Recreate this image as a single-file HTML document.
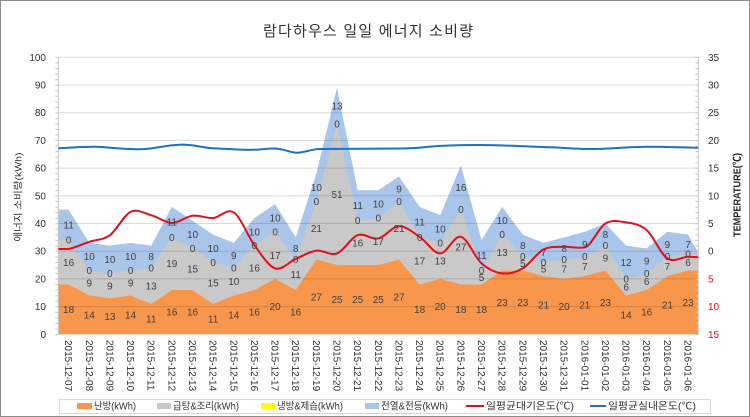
<!DOCTYPE html>
<html><head><meta charset="utf-8"><style>html,body{margin:0;padding:0;background:#fff}svg{display:block}</style></head>
<body>
<svg width="750" height="417" viewBox="0 0 750 417" xmlns="http://www.w3.org/2000/svg" font-family="'Liberation Sans','Noto Sans CJK KR',sans-serif">
<rect x="0.5" y="0.5" width="749" height="416" fill="#fff" stroke="#8c8c8c"/>
<text x="368" y="36" text-anchor="middle" font-size="15" fill="#333" textLength="210" lengthAdjust="spacing">람다하우스 일일 에너지 소비량</text>

<!-- areas -->
<g transform="translate(58.3,334.3) scale(20.645,-2.77)">
<polygon fill="#a9c5ea" points="0,45 0.5,45 1.5,33 2.5,32 3.5,33 4.5,32 5.5,46 6.5,41 7.5,36 8.5,33 9.5,42 10.5,47 11.5,35 12.5,58 13.5,89 14.5,52 15.5,52 16.5,57 17.5,46 18.5,43 19.5,61 20.5,34 21.5,46 22.5,36 23.5,33 24.5,35 25.5,37 26.5,40 27.5,32 28.5,31 29.5,37 30.5,36 31,29.5 31,0 0,0"/>
<polygon fill="#c9c9c9" points="0,34 0.5,34 1.5,23 2.5,22 3.5,23 4.5,24 5.5,35 6.5,31 7.5,26 8.5,24 9.5,32 10.5,37 11.5,27 12.5,48 13.5,76 14.5,41 15.5,42 16.5,48 17.5,35 18.5,33 19.5,45 20.5,23 21.5,36 22.5,28 23.5,26 24.5,27 25.5,28 26.5,32 27.5,20 28.5,22 29.5,28 30.5,29 31,29 31,0 0,0"/>
<polygon fill="#f8974c" points="0,18 0.5,18 1.5,14 2.5,13 3.5,14 4.5,11 5.5,16 6.5,16 7.5,11 8.5,14 9.5,16 10.5,20 11.5,16 12.5,27 13.5,25 14.5,25 15.5,25 16.5,27 17.5,18 18.5,20 19.5,18 20.5,18 21.5,23 22.5,23 23.5,21 24.5,20 25.5,21 26.5,23 27.5,14 28.5,16 29.5,21 30.5,23 31,23 31,0 0,0"/>
</g>

<!-- gridlines -->
<g stroke="rgba(0,0,0,0.14)" stroke-width="1">
<line x1="58.3" x2="698.3" y1="306.6" y2="306.6"/>
<line x1="58.3" x2="698.3" y1="278.9" y2="278.9"/>
<line x1="58.3" x2="698.3" y1="251.2" y2="251.2"/>
<line x1="58.3" x2="698.3" y1="223.5" y2="223.5"/>
<line x1="58.3" x2="698.3" y1="195.8" y2="195.8"/>
<line x1="58.3" x2="698.3" y1="168.1" y2="168.1"/>
<line x1="58.3" x2="698.3" y1="140.4" y2="140.4"/>
<line x1="58.3" x2="698.3" y1="112.7" y2="112.7"/>
<line x1="58.3" x2="698.3" y1="85" y2="85"/>
<line x1="58.3" x2="698.3" y1="57.3" y2="57.3"/>
</g>
<line x1="58.3" x2="58.3" y1="57.3" y2="334.3" stroke="#c8c8c8"/>
<line x1="698.3" x2="698.3" y1="57.3" y2="334.3" stroke="#c8c8c8"/>
<line x1="56.8" x2="56.8" y1="57" y2="335" stroke="#c8c8c8" stroke-width="3" stroke-dasharray="1 4.54"/>
<line x1="697" x2="697" y1="57" y2="335" stroke="#c8c8c8" stroke-width="3" stroke-dasharray="1 4.54"/>

<!-- lines -->
<path fill="none" stroke="#1f72bf" stroke-width="2" d="M58.3,148.3 C75,147.5 85,146.5 95,146.8 C110,147.3 125,149.5 140,149.3 C155,149 165,145 180,144.7 C195,144.4 200,147.5 213,148.3 C230,149.3 245,150 253,149.8 C262,149.6 267,148.2 275,148.5 C285,149 290,152.7 297,152.7 C305,152.7 310,149.2 320,149 C350,148.7 380,148.5 400,148.5 C420,148.5 430,146 443,145.7 C455,145.3 470,145 480,145 C500,145 525,146.5 550,147.3 C565,147.8 575,149 590,149 C610,149 630,146.7 650,146.7 C670,146.7 685,147.7 698.3,147.7"/>
<g transform="translate(58.3,251.2) scale(20.645,-5.54)">
<path fill="none" stroke="#e3101a" stroke-width="2" vector-effect="non-scaling-stroke" d="M0,0.4 L0.5,0.4 C0.833,0.617 1.167,1.283 1.5,1.7 C1.833,2.117 2.167,2.0 2.5,2.9 C2.833,3.8 3.167,6.5 3.5,7.1 C3.833,7.7 4.167,6.833 4.5,6.5 C4.833,6.167 5.167,5.117 5.5,5.1 C5.833,5.083 6.167,6.25 6.5,6.4 C6.833,6.55 7.167,5.9 7.5,6.0 C7.833,6.1 8.167,7.817 8.5,7.0 C8.833,6.183 9.167,2.783 9.5,1.1 C9.833,-0.583 10.167,-2.683 10.5,-3.1 C10.833,-3.517 11.167,-1.933 11.5,-1.4 C11.833,-0.867 12.167,-0.067 12.5,0.1 C12.833,0.267 13.167,-0.867 13.5,-0.4 C13.833,0.067 14.167,2.45 14.5,2.9 C14.833,3.35 15.167,2.033 15.5,2.3 C15.833,2.567 16.167,4.45 16.5,4.5 C16.833,4.55 17.167,3.417 17.5,2.6 C17.833,1.783 18.167,-0.4 18.5,-0.4 C18.833,-0.4 19.167,2.9 19.5,2.6 C19.833,2.3 20.167,-1.1 20.5,-2.2 C20.833,-3.3 21.167,-3.85 21.5,-4.0 C21.833,-4.15 22.167,-3.817 22.5,-3.1 C22.833,-2.383 23.167,-0.35 23.5,0.3 C23.833,0.95 24.167,0.733 24.5,0.8 C24.833,0.867 25.167,0.4 25.5,0.7 C25.833,1.0 26.167,4.25 26.5,5.0 C26.833,5.75 27.167,5.4 27.5,5.2 C27.833,5.0 28.167,4.883 28.5,3.8 C28.833,2.717 29.167,-0.5 29.5,-1.3 C29.833,-2.1 30.167,-1.05 30.5,-1.0 L31,-1.1"/>
</g>

<!-- data labels -->
<g font-size="10" fill="#404040" text-anchor="middle">
<text x="68.6" y="312.9">18</text><text x="68.6" y="265.8">16</text><text x="68.6" y="243.6">0</text><text x="68.6" y="228.4">11</text>
<text x="89.3" y="318.4">14</text><text x="89.3" y="286.6">9</text><text x="89.3" y="274.1">0</text><text x="89.3" y="260.2">10</text>
<text x="109.9" y="319.8">13</text><text x="109.9" y="289.3">9</text><text x="109.9" y="276.9">0</text><text x="109.9" y="263">10</text>
<text x="130.6" y="318.4">14</text><text x="130.6" y="286.6">9</text><text x="130.6" y="274.1">0</text><text x="130.6" y="260.2">10</text>
<text x="151.2" y="322.6">11</text><text x="151.2" y="289.3">13</text><text x="151.2" y="271.3">0</text><text x="151.2" y="260.2">8</text>
<text x="171.8" y="315.6">16</text><text x="171.8" y="267.2">19</text><text x="171.8" y="240.9">0</text><text x="171.8" y="225.6">11</text>
<text x="192.5" y="315.6">16</text><text x="192.5" y="272.7">15</text><text x="192.5" y="251.9">0</text><text x="192.5" y="238.1">10</text>
<text x="213.1" y="322.6">11</text><text x="213.1" y="286.6">15</text><text x="213.1" y="265.8">0</text><text x="213.1" y="251.9">10</text>
<text x="233.8" y="318.4">14</text><text x="233.8" y="285.2">10</text><text x="233.8" y="271.3">0</text><text x="233.8" y="258.9">9</text>
<text x="254.4" y="315.6">16</text><text x="254.4" y="271.3">16</text><text x="254.4" y="249.2">0</text><text x="254.4" y="235.3">10</text>
<text x="275.1" y="310.1">20</text><text x="275.1" y="258.9">17</text><text x="275.1" y="235.3">0</text><text x="275.1" y="221.5">10</text>
<text x="295.7" y="315.6">16</text><text x="295.7" y="278.2">11</text><text x="295.7" y="263">0</text><text x="295.7" y="251.9">8</text>
<text x="316.4" y="300.4">27</text><text x="316.4" y="231.9">21</text><text x="316.4" y="204.8">0</text><text x="316.4" y="191">10</text>
<text x="337" y="303.2">25</text><text x="337" y="197.9">51</text><text x="337" y="127.3">0</text><text x="337" y="109.3">13</text>
<text x="357.7" y="303.2">25</text><text x="357.7" y="246.4">16</text><text x="357.7" y="224.2">0</text><text x="357.7" y="209">11</text>
<text x="378.3" y="303.2">25</text><text x="378.3" y="245">17</text><text x="378.3" y="221.5">0</text><text x="378.3" y="207.6">10</text>
<text x="399" y="300.4">27</text><text x="399" y="231.9">21</text><text x="399" y="204.8">0</text><text x="399" y="192.4">9</text>
<text x="419.6" y="312.9">18</text><text x="419.6" y="264.4">17</text><text x="419.6" y="240.9">0</text><text x="419.6" y="225.6">11</text>
<text x="440.2" y="310.1">20</text><text x="440.2" y="264.4">13</text><text x="440.2" y="246.4">0</text><text x="440.2" y="232.5">10</text>
<text x="460.9" y="312.9">18</text><text x="460.9" y="250.5">27</text><text x="460.9" y="213.2">0</text><text x="460.9" y="191">16</text>
<text x="481.5" y="312.9">18</text><text x="481.5" y="281">5</text><text x="481.5" y="274.1">0</text><text x="481.5" y="258.9">11</text>
<text x="502.2" y="305.9">23</text><text x="502.2" y="256.1">13</text><text x="502.2" y="238.1">0</text><text x="502.2" y="224.2">10</text>
<text x="522.8" y="305.9">23</text><text x="522.8" y="267.2">5</text><text x="522.8" y="260.2">0</text><text x="522.8" y="249.2">8</text>
<text x="543.5" y="308.7">21</text><text x="543.5" y="272.7">5</text><text x="543.5" y="265.8">0</text><text x="543.5" y="256.1">7</text>
<text x="564.1" y="310.1">20</text><text x="564.1" y="272.7">7</text><text x="564.1" y="263">0</text><text x="564.1" y="251.9">8</text>
<text x="584.8" y="308.7">21</text><text x="584.8" y="269.9">7</text><text x="584.8" y="260.2">0</text><text x="584.8" y="247.8">9</text>
<text x="605.4" y="305.9">23</text><text x="605.4" y="261.6">9</text><text x="605.4" y="249.2">0</text><text x="605.4" y="238.1">8</text>
<text x="626.1" y="318.4">14</text><text x="626.1" y="290.7">6</text><text x="626.1" y="282.4">0</text><text x="626.1" y="265.8">12</text>
<text x="646.7" y="315.6">16</text><text x="646.7" y="285.2">6</text><text x="646.7" y="276.9">0</text><text x="646.7" y="264.4">9</text>
<text x="667.4" y="308.7">21</text><text x="667.4" y="269.9">7</text><text x="667.4" y="260.2">0</text><text x="667.4" y="247.8">9</text>
<text x="688" y="305.9">23</text><text x="688" y="265.8">6</text><text x="688" y="257.5">0</text><text x="688" y="247.8">7</text>
</g>

<!-- left axis labels -->
<g font-size="10" fill="#333" text-anchor="end">
<text x="46" y="60.8">100</text><text x="46" y="88.5">90</text><text x="46" y="116.2">80</text><text x="46" y="143.9">70</text><text x="46" y="171.6">60</text><text x="46" y="199.3">50</text><text x="46" y="227">40</text><text x="46" y="254.7">30</text><text x="46" y="282.4">20</text><text x="46" y="310.1">10</text><text x="46" y="337.8">0</text>
</g>
<!-- right axis labels -->
<g font-size="10" fill="#333">
<text x="708" y="60.8">35</text><text x="708" y="88.5">30</text><text x="708" y="116.2">25</text><text x="708" y="143.9">20</text><text x="708" y="171.6">15</text><text x="708" y="199.3">10</text><text x="708" y="227">5</text><text x="708" y="254.7">0</text>
<text x="708" y="282.4" fill="#e3101a">5</text><text x="708" y="310.1" fill="#e3101a">10</text><text x="708" y="337.8" fill="#e3101a">15</text>
</g>

<text transform="translate(21.5,197) rotate(-90)" text-anchor="middle" font-size="9.5" fill="#333" textLength="89" lengthAdjust="spacingAndGlyphs">에너지 소비량(kWh)</text>
<text transform="translate(740.5,195) rotate(-90)" text-anchor="middle" font-size="10.5" font-weight="bold" fill="#222" textLength="84" lengthAdjust="spacingAndGlyphs">TEMPERATURE(℃)</text>

<!-- date labels -->
<g font-size="10" fill="#333">
<text transform="translate(68.6,340) rotate(90)" dy="3.5">2015-12-07</text>
<text transform="translate(89.3,340) rotate(90)" dy="3.5">2015-12-08</text>
<text transform="translate(109.9,340) rotate(90)" dy="3.5">2015-12-09</text>
<text transform="translate(130.6,340) rotate(90)" dy="3.5">2015-12-10</text>
<text transform="translate(151.2,340) rotate(90)" dy="3.5">2015-12-11</text>
<text transform="translate(171.8,340) rotate(90)" dy="3.5">2015-12-12</text>
<text transform="translate(192.5,340) rotate(90)" dy="3.5">2015-12-13</text>
<text transform="translate(213.1,340) rotate(90)" dy="3.5">2015-12-14</text>
<text transform="translate(233.8,340) rotate(90)" dy="3.5">2015-12-15</text>
<text transform="translate(254.4,340) rotate(90)" dy="3.5">2015-12-16</text>
<text transform="translate(275.1,340) rotate(90)" dy="3.5">2015-12-17</text>
<text transform="translate(295.7,340) rotate(90)" dy="3.5">2015-12-18</text>
<text transform="translate(316.4,340) rotate(90)" dy="3.5">2015-12-19</text>
<text transform="translate(337,340) rotate(90)" dy="3.5">2015-12-20</text>
<text transform="translate(357.7,340) rotate(90)" dy="3.5">2015-12-21</text>
<text transform="translate(378.3,340) rotate(90)" dy="3.5">2015-12-22</text>
<text transform="translate(399,340) rotate(90)" dy="3.5">2015-12-23</text>
<text transform="translate(419.6,340) rotate(90)" dy="3.5">2015-12-24</text>
<text transform="translate(440.2,340) rotate(90)" dy="3.5">2015-12-25</text>
<text transform="translate(460.9,340) rotate(90)" dy="3.5">2015-12-26</text>
<text transform="translate(481.5,340) rotate(90)" dy="3.5">2015-12-27</text>
<text transform="translate(502.2,340) rotate(90)" dy="3.5">2015-12-28</text>
<text transform="translate(522.8,340) rotate(90)" dy="3.5">2015-12-29</text>
<text transform="translate(543.5,340) rotate(90)" dy="3.5">2015-12-30</text>
<text transform="translate(564.1,340) rotate(90)" dy="3.5">2015-12-31</text>
<text transform="translate(584.8,340) rotate(90)" dy="3.5">2016-01-01</text>
<text transform="translate(605.4,340) rotate(90)" dy="3.5">2016-01-02</text>
<text transform="translate(626.1,340) rotate(90)" dy="3.5">2016-01-03</text>
<text transform="translate(646.7,340) rotate(90)" dy="3.5">2016-01-04</text>
<text transform="translate(667.4,340) rotate(90)" dy="3.5">2016-01-05</text>
<text transform="translate(688,340) rotate(90)" dy="3.5">2016-01-06</text>
</g>

<!-- legend -->
<rect x="59.5" y="399.5" width="651" height="14" fill="#fff" stroke="#d9d9d9"/>
<rect x="77" y="403" width="15" height="6" fill="#f8974c"/>
<rect x="157" y="403" width="14" height="6" fill="#c9c9c9"/>
<rect x="261" y="403" width="14" height="6" fill="#ffff00"/>
<rect x="365" y="403" width="14" height="6" fill="#a9c5ea"/>
<line x1="466" x2="484" y1="406" y2="406" stroke="#e3101a" stroke-width="2"/>
<line x1="590" x2="606" y1="406" y2="406" stroke="#1f72bf" stroke-width="2"/>
<g font-size="10" fill="#333">
<text x="94" y="409.5" textLength="42" lengthAdjust="spacingAndGlyphs">난방(kWh)</text>
<text x="173" y="409.5" textLength="66" lengthAdjust="spacingAndGlyphs">급탕&amp;조리(kWh)</text>
<text x="277" y="409.5" textLength="66" lengthAdjust="spacingAndGlyphs">냉방&amp;제습(kWh)</text>
<text x="381" y="409.5" textLength="67" lengthAdjust="spacingAndGlyphs">전열&amp;전등(kWh)</text>
<text x="486" y="409.5" textLength="88" lengthAdjust="spacingAndGlyphs">일평균대기온도(℃)</text>
<text x="608" y="409.5" textLength="88" lengthAdjust="spacingAndGlyphs">일평균실내온도(℃)</text>
</g>
</svg>
</body></html>
